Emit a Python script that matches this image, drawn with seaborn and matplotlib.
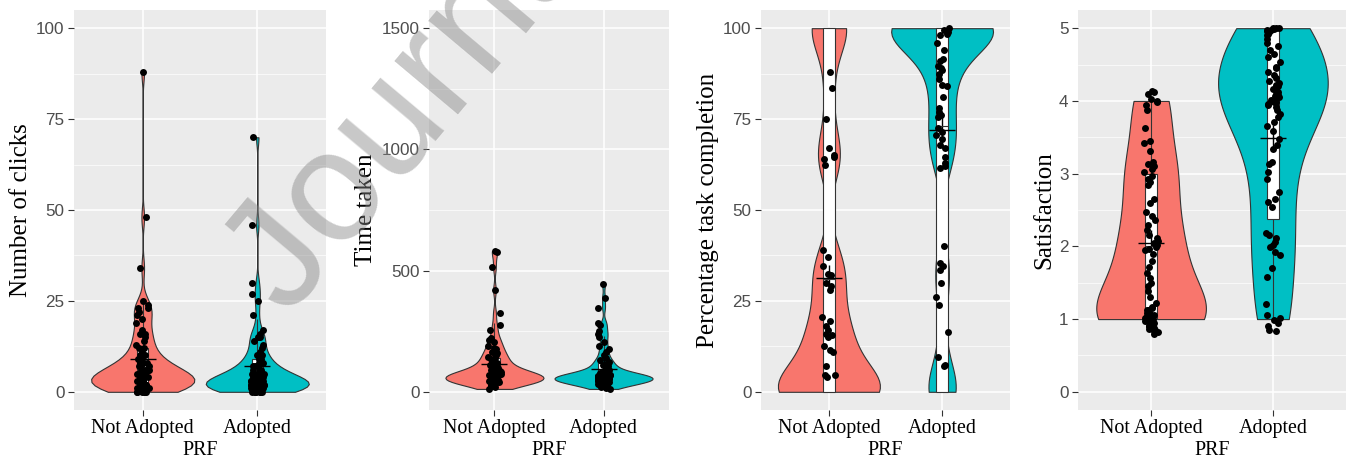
import numpy as np
import pandas as pd
import matplotlib
matplotlib.use('Agg')
import matplotlib.pyplot as plt
import seaborn as sns

# categories and colours
groups = ['Not Adopted', 'Adopted']
palette = ['#F8766D', '#00BFC4']

# Number of clicks
clicks_na = [88, 48, 34, 25, 24, 23, 23, 22, 21, 20, 19, 17, 16, 16, 15, 14, 13, 12, 12, 11,
             10, 10, 9, 9, 8, 8, 8, 7, 7, 7, 6, 6, 6, 6, 6, 5, 5, 5, 5, 5, 5, 4, 4, 4, 4, 4, 4, 4,
             3, 3, 3, 3, 3, 3, 3, 3, 2, 2, 2, 2, 2, 2, 2, 2, 1, 1, 1, 1, 1, 1, 1, 0, 0, 0, 0, 0, 0]
clicks_ad = [70, 46, 30, 27, 25, 21, 17, 16, 15, 15, 14, 13, 12, 11, 10, 10, 9, 9, 8, 8, 7, 7, 7,
             6, 6, 6, 5, 5, 5, 5, 5, 4, 4, 4, 4, 4, 3, 3, 3, 3, 3, 3, 3, 3, 3, 2, 2, 2, 2, 2, 2, 2,
             2, 2, 2, 2, 2, 2, 1, 1, 1, 1, 1, 1, 1, 1, 1, 1, 1, 0, 0, 0, 0, 0, 0, 0]
clicks_box_na = [0, 2, 5, 12, 25]
clicks_box_ad = [0, 1.5, 4, 9, 20]

# Time taken
time_na = [580, 575, 515, 420, 325, 275, 255, 220, 215, 205, 190, 180, 175, 165, 160, 150, 145,
           140, 135, 130, 125, 120, 115, 110, 105, 100, 95, 90, 88, 85, 80, 78, 75, 72, 70, 68, 65,
           62, 60, 58, 55, 52, 50, 48, 45, 42, 40, 38, 35, 30, 28, 25, 20, 12, 65, 60, 55, 50, 70,
           45, 75, 62, 58, 48, 52, 66, 44, 38, 72, 56, 60, 50, 40]
time_ad = [443, 388, 347, 285, 275, 250, 240, 225, 207, 190, 175, 165, 150, 140, 130, 125, 120,
           115, 110, 105, 100, 95, 90, 85, 82, 80, 78, 75, 72, 70, 68, 65, 63, 60, 58, 56, 55, 53,
           50, 48, 46, 44, 42, 40, 38, 35, 32, 30, 28, 25, 22, 20, 15, 12, 60, 55, 65, 50, 70, 45,
           62, 58, 40, 66, 52, 48, 64, 56, 35, 68, 50, 42, 60, 54]
time_box_na = [12, 50, 85, 140, 285]
time_box_ad = [12, 45, 70, 120, 230]

# Percentage task completion (dots shown + values hidden under the 0 / 100 ends)
task_na_pts = [88, 83.5, 75, 67, 65, 64.5, 64, 62.5, 39, 37, 34.5, 32.5, 32, 30, 29, 28, 20.5,
               19.5, 18, 17, 16, 15.5, 15, 12.5, 11.5, 11, 7, 4.5, 4, 4.5]
task_na_hidden = [0, 0, 0, 0, 0, 0, 0, 0, 0, 0, 0, 0, 0, 0, 0, 0, 0, 0, 0, 0,
                  100, 100, 100, 100, 100, 100, 100, 100]
task_ad_pts = [100, 99.5, 99, 98.5, 98, 96, 94, 91.5, 91, 89.5, 89, 88.5, 87.5, 86, 84.5, 84, 81,
               78, 77, 76, 75.5, 72.5, 71.5, 70.5, 69.5, 68, 67, 64.5, 63, 62, 61.5, 40, 35.5,
               34.5, 33.5, 30, 26, 24, 16.5, 9.5, 7.5, 7]
task_ad_hidden = [0, 0, 0, 0, 0, 0, 0, 0, 0,
                  100, 100, 100, 100, 100, 100, 100, 100, 100, 100, 100, 100, 100, 100, 100, 100,
                  100, 100, 100, 100, 100, 100, 100, 100, 100, 100, 100, 100, 100, 100, 100]
task_box_na = [0, 0, 31, 100, 100]
task_box_ad = [0, 0, 73, 100, 100]

# Satisfaction (dots as drawn, jittered around the 1-5 scale)
sat_na = [4.14, 4.12, 4.10, 4.03, 4.00, 3.98, 3.95, 3.88, 3.63, 3.45, 3.42, 3.31, 3.16, 3.13,
          3.10, 3.06, 3.02, 2.97, 2.92, 2.88, 2.85, 2.65, 2.60, 2.47, 2.42, 2.36, 2.29, 2.22,
          2.15, 2.11, 2.07, 2.04, 2.02, 1.99, 1.97, 1.95, 1.90, 1.80, 1.71, 1.63, 1.57, 1.49,
          1.46, 1.38, 1.31, 1.22, 1.17, 1.13, 1.10, 1.07, 1.04, 1.02, 0.99, 0.97, 0.94, 0.91,
          0.88, 0.85, 0.83, 0.80, 0.96, 1.05, 0.90, 1.15, 0.86, 0.93, 1.01, 1.08, 0.82, 1.12,
          0.95, 1.00]
sat_ad = [5.00, 5.00, 4.99, 4.98, 4.96, 4.95, 4.92, 4.85, 4.80, 4.64, 4.61, 4.53, 4.46, 4.35,
          4.32, 4.28, 4.25, 4.21, 4.18, 4.16, 4.12, 4.10, 4.07, 4.05, 4.03, 4.01, 3.98, 3.96,
          3.94, 3.91, 3.87, 3.82, 3.78, 3.71, 3.66, 3.59, 3.48, 3.39, 3.34, 3.16, 3.13, 3.02,
          2.93, 2.75, 2.65, 2.61, 2.54, 2.18, 2.15, 2.11, 2.06, 2.02, 1.99, 1.92, 1.88, 1.70,
          1.58, 1.21, 1.06, 1.01, 0.99, 0.94, 0.90, 0.85, 0.83, 5.00, 4.97, 4.90, 4.75, 4.70,
          4.45, 4.40, 4.22, 4.08, 3.99]
sat_box_na = [1, 1, 2, 3, 4]
sat_box_ad = [1, 2.37, 4, 5, 5]


def long_df(na, ad):
    return pd.DataFrame({'PRF': ['Not Adopted'] * len(na) + ['Adopted'] * len(ad),
                         'value': list(na) + list(ad)})


def on_scale(v):
    # satisfaction ratings are means of three 1-5 items
    return list(np.clip(np.round(np.array(v) * 3) / 3, 1, 5))


sns.set_theme(style='darkgrid', rc={'axes.facecolor': '#EBEBEB', 'grid.color': 'white'})
serif = 'Liberation Serif'
sans = 'Liberation Sans'

W, H = 1348, 465
fig = plt.figure(figsize=(W / 100, H / 100), dpi=100)
fig.patch.set_facecolor('white')


def panel(rect, dist, pts, box, ylabel, ticks, bw):
    l, r = rect
    ax = fig.add_axes([l / W, (H - 410) / H, (r - l) / W, 400 / H])
    sns.violinplot(data=dist, x='PRF', y='value', hue='PRF', order=groups, hue_order=groups,
                   palette=palette, inner=None, cut=0, density_norm='area', width=0.9,
                   saturation=1, linewidth=0.8, linecolor='#333333', bw_adjust=bw,
                   legend=False, ax=ax)
    sns.boxplot(data=box, x='PRF', y='value', order=groups, width=0.1, whis=(0, 100),
                showfliers=False, showcaps=False, color='white', saturation=1,
                linecolor='#333333', linewidth=0.8, ax=ax)
    np.random.seed(3)
    sns.stripplot(data=pts, x='PRF', y='value', order=groups, color='black', size=5,
                  jitter=0.06, linewidth=0, ax=ax, zorder=3)
    sns.pointplot(data=dist, x='PRF', y='value', order=groups, estimator='mean',
                  errorbar=None, color='black', markers='+', linestyles='none',
                  markersize=19, markeredgewidth=1.0, ax=ax)

    step = ticks[1] - ticks[0]
    span = ticks[-1] - ticks[0]
    ax.set_yticks(ticks)
    ax.set_yticklabels([f'{t:g}' for t in ticks], family=sans, fontsize=12.3, color='#4D4D4D')
    ax.set_yticks(np.arange(ticks[0] + step / 2, ticks[-1], step), minor=True)
    ax.set_ylim(ticks[0] - 0.05 * span, ticks[-1] + 0.05 * span)
    ax.set_xticks([0, 1])
    ax.set_xticklabels(groups, family=serif, fontsize=14.4, color='black')
    ax.set_xlim(-0.6, 1.6)
    ax.grid(True, which='major', color='white', linewidth=1.1)
    ax.grid(True, which='minor', axis='y', color='white', linewidth=0.5)
    ax.tick_params(which='major', left=True, bottom=True, length=4.3, width=0.8,
                   color='#333333', pad=2.5)
    ax.tick_params(which='minor', length=0)
    for s in ax.spines.values():
        s.set_visible(False)
    ax.set_xlabel('PRF', family=serif, fontsize=14.4, color='black', labelpad=2)
    ax.set_ylabel(ylabel, family=serif, fontsize=18, color='black', labelpad=3)
    ax.set_axisbelow(True)
    return ax


panel((74, 326), long_df(clicks_na, clicks_ad), long_df(clicks_na, clicks_ad),
      long_df(clicks_box_na, clicks_box_ad), 'Number of clicks', [0, 25, 50, 75, 100], 0.5)
panel((429, 669), long_df(time_na, time_ad), long_df(time_na, time_ad),
      long_df(time_box_na, time_box_ad), 'Time taken', [0, 500, 1000, 1500], 0.5)
panel((761, 1010), long_df(task_na_pts + task_na_hidden, task_ad_pts + task_ad_hidden),
      long_df(task_na_pts, task_ad_pts), long_df(task_box_na, task_box_ad),
      'Percentage task completion', [0, 25, 50, 75, 100], 0.42)
panel((1078, 1346), long_df(on_scale(sat_na), on_scale(sat_ad)), long_df(sat_na, sat_ad),
      long_df(sat_box_na, sat_box_ad), 'Satisfaction', [0, 1, 2, 3, 4, 5], 1.0)

# watermark of the source document
fig.text(288 / W, 1 - 318 / H, 'Journal Pre-proof', rotation=50, rotation_mode='anchor',
         ha='left', va='baseline', fontsize=114, family=sans, color='#858585', alpha=0.45,
         zorder=10)

fig.savefig('out.png', dpi=100, facecolor='white')
